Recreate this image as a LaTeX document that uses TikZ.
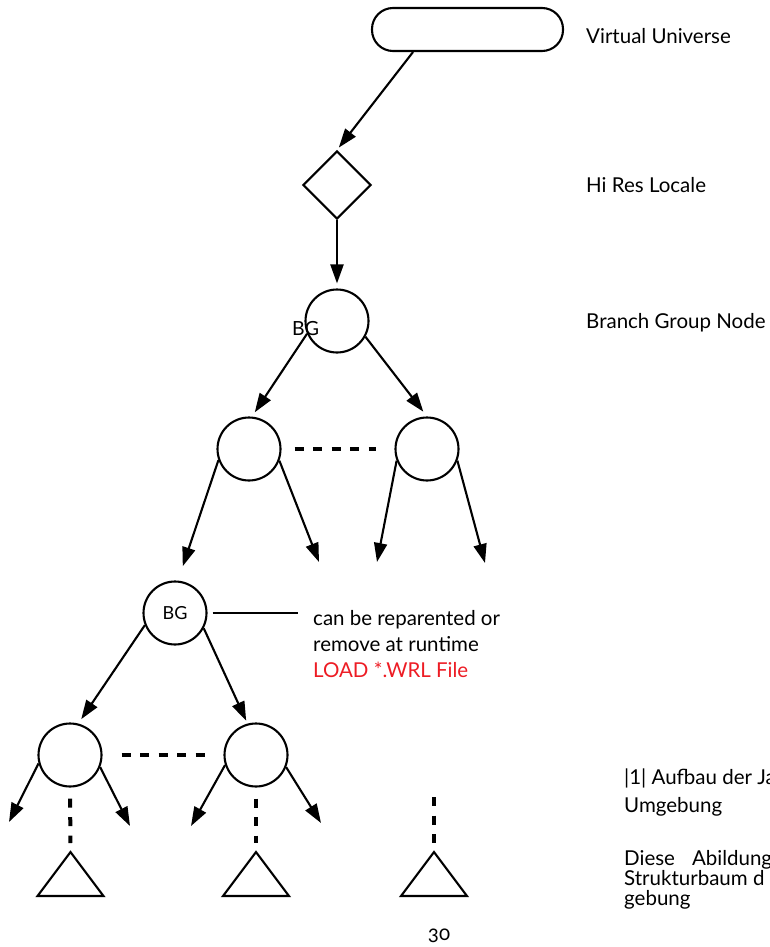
\documentclass[tikz,border=0pt]{standalone}
\usepackage{fontspec}
\setmainfont{Lato}
\usetikzlibrary{shapes.geometric,arrows.meta}
\definecolor{loadred}{RGB}{237,28,36}

\begin{document}
\begin{tikzpicture}[x=1pt,y=-1pt,
        every node/.style={inner sep=0pt},
        sg/.style={circle,draw,line width=2.1pt,minimum size=63pt},
        lbl/.style={anchor=base west,font=\fontsize{20.5}{26}\selectfont,align=left},
        arr/.style={line width=2.1pt,-{Triangle[length=19pt,width=13pt]}},
        dots/.style={line width=4pt,dash pattern=on 9pt off 9.5pt},
        tri/.style={line width=2.1pt}]
        \useasboundingbox (0,0) rectangle (770,947);
        \clip (0,0) rectangle (770,947);

        \node[draw,line width=2.1pt,rounded corners=21pt,minimum width=191pt,minimum height=43pt] (vu) at (467.5,29.5) {};
        \node[diamond,draw,line width=2.1pt,aspect=1,minimum size=68pt] (hrl) at (337,185) {};
        \node[sg] (bg1) at (337,321) {};
        \node[anchor=base west,font=\fontsize{19.5}{20}\selectfont] (bg1txt) at (292,335) {BG};
        \node[sg] (l2a) at (249,449) {};
        \node[sg] (l2b) at (427,449) {};
        \node[sg,font=\fontsize{18}{20}\selectfont] (bg2) at (175,613) {BG};
        \node[sg] (l3a) at (70,755) {};
        \node[sg] (l3b) at (256,755) {};

        \node[lbl] (vutxt) at (586,44) {Virtual Universe};
        \node[lbl] (hrltxt) at (586,192) {Hi Res Locale};
        \node[lbl] (bgtxt) at (586,328) {Branch Group Node};
        \node[lbl] (note) at (313,677) {can be reparented or\\remove at runtime\\\textcolor{loadred}{LOAD *.WRL File}};
        \node[lbl,font=\fontsize{20.5}{28}\selectfont] (cap) at (624,812) {\textbar 1\textbar{} Aufbau der Ja\\Umgebung};
        \node[lbl,font=\fontsize{20.5}{20}\selectfont] (capb) at (624,905) {Diese\hspace{17pt}Abildung\\Strukturbaum d\\gebung};
        \node[anchor=base,font=\fontsize{20.5}{20}\selectfont\addfontfeatures{Numbers=OldStyle}] (pg) at (439,940) {30};

        \coordinate (e1) at (319,562);
        \coordinate (e2) at (377,562);
        \coordinate (e3) at (485,563);
        \coordinate (f1) at (9,822);
        \coordinate (f2) at (130,826);
        \coordinate (f3) at (191,826);
        \coordinate (f4) at (321,823);
        \coordinate (noteend) at (298,613);
        \coordinate (t3top) at (434,797);
        \foreach \t/\x in {t1/70.5,t2/256,t3/434}
            \coordinate (\t) at (\x,852);

        \path (vu.south) ++(-54.5,0) coordinate (vuout);
        \path (vuout) edge[arr,shorten >=3pt] (hrl.north);
        \path (hrl.south) edge[arr,shorten >=5pt] (bg1.north);
        \path (bg1.203) edge[arr,shorten >=5pt] ([xshift=3pt]l2a.north);
        \path (bg1.331) edge[arr,shorten >=6pt] (l2b.north);
        \path (l2a.200) edge[arr,shorten >=15pt] ([xshift=3pt]bg2.north);
        \path (l2a.339) edge[arr] (e1);
        \path (l2b.201) edge[arr] (e2);
        \path (l2b.339) edge[arr] (e3);
        \path (bg2.202) edge[arr,shorten >=4pt] ([xshift=9pt]l3a.north);
        \path (bg2.332) edge[arr,shorten >=2pt] ([xshift=-9pt]l3b.north);
        \path (l3a.195) edge[arr] (f1);
        \path (l3a.338) edge[arr] (f2);
        \path (l3b.198) edge[arr] (f3);
        \path (l3b.338) edge[arr] (f4);
        \path (bg2.east) edge[line width=2.1pt,shorten <=5pt] (noteend);

        \path (l2a) edge[dots,shorten <=13pt,shorten >=18pt] (l2b);
        \path (l3a) edge[dots,shorten <=19pt,shorten >=16pt] (l3b);
        \path (l3a.south) edge[dots,shorten <=11pt,shorten >=9pt] (t1);
        \path (l3b.south) edge[dots,shorten <=11pt,shorten >=9pt] (t2);
        \path (t3top) edge[dots,shorten >=6pt] (t3);

        \foreach \t in {t1,t2,t3}
            \draw[tri] (\t) -- ++(-33,44) -- ++(66,0) -- cycle;
\end{tikzpicture}
\end{document}
